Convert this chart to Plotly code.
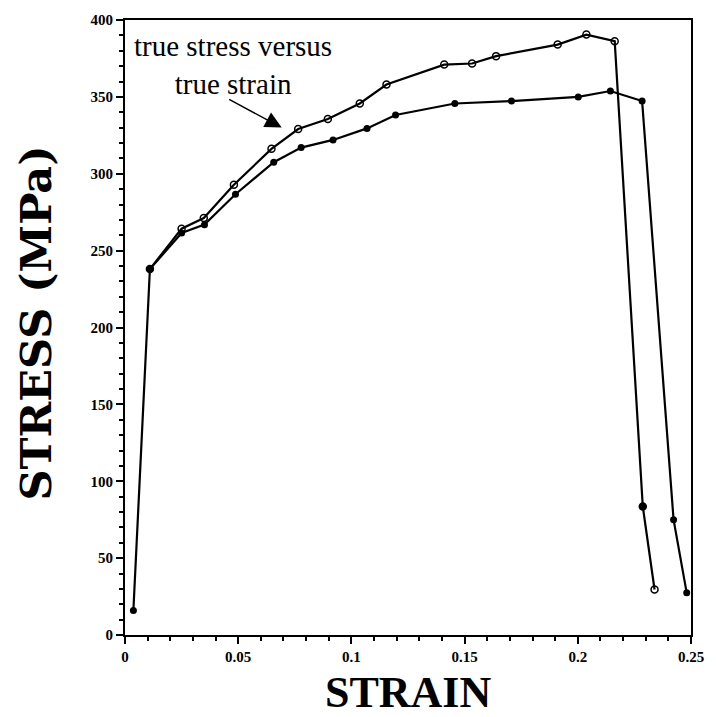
import plotly.graph_objects as go

# true stress vs true strain (open circles)
true_strain = [0.011, 0.025, 0.0348, 0.0481, 0.0647, 0.0765, 0.0896, 0.1037, 0.1155,
               0.141, 0.1533, 0.1639, 0.1911, 0.2038, 0.2163, 0.2287, 0.2339]
true_stress = [238, 264.3, 271.2, 292.8, 316.2, 329.1, 335.6, 345.7, 358,
               371, 371.7, 376.5, 384, 390.5, 386.2, 83.6, 29.6]

# engineering stress vs strain (filled circles)
eng_strain = [0.0037, 0.011, 0.025, 0.0351, 0.0488, 0.0657, 0.0778, 0.0919, 0.1069,
              0.1195, 0.1457, 0.1707, 0.2002, 0.2144, 0.2284, 0.2423, 0.2481]
eng_stress = [16, 238, 261.5, 266.9, 286.7, 307.5, 317, 322, 329.5,
              338.2, 345.7, 347.3, 350, 353.8, 347.3, 75, 27.4]

x_ticks = [0, 0.05, 0.1, 0.15, 0.2, 0.25]
x_ticklabels = ["0", "0.05", "0.1", "0.15", "0.2", "0.25"]
y_ticks = [0, 50, 100, 150, 200, 250, 300, 350, 400]

x_title = "STRAIN"
y_title = "STRESS (MPa)"
annot_text = "true stress versus<br>true strain"

true_symbols = ["circle-open"] * len(true_strain)
true_symbols[15] = "circle"

fig = go.Figure()
fig.add_trace(go.Scatter(
    x=true_strain, y=true_stress, mode="lines+markers",
    line=dict(color="black", width=2.2),
    marker=dict(symbol=true_symbols, size=7, color="black", line=dict(color="black", width=1.5)),
    showlegend=False, cliponaxis=False))
fig.add_trace(go.Scatter(
    x=eng_strain, y=eng_stress, mode="lines+markers",
    line=dict(color="black", width=2.2),
    marker=dict(symbol="circle", size=7, color="black"),
    showlegend=False, cliponaxis=False))

tickfont = dict(family="Liberation Serif", size=15, color="black", weight="bold")

fig.update_layout(
    width=716, height=717,
    margin=dict(l=125, r=16, t=17, b=82),
    paper_bgcolor="white", plot_bgcolor="white",
    xaxis=dict(range=[0, 0.25], tickvals=x_ticks, ticktext=x_ticklabels,
               showline=True, linecolor="black", linewidth=2, mirror=True,
               ticks="outside", ticklen=7, tickwidth=2, tickcolor="black",
               minor=dict(dtick=0.01, tick0=0, ticks="outside", ticklen=4, tickwidth=1.5, tickcolor="black"),
               showgrid=False, zeroline=False, tickfont=tickfont),
    yaxis=dict(range=[0, 400], tickvals=y_ticks,
               showline=True, linecolor="black", linewidth=2, mirror=True,
               ticks="outside", ticklen=7, tickwidth=2, tickcolor="black",
               minor=dict(dtick=10, tick0=0, ticks="outside", ticklen=4, tickwidth=1.5, tickcolor="black"),
               showgrid=False, zeroline=False, tickfont=tickfont),
)

# axis titles
fig.add_annotation(x=0.5, y=0, xref="paper", yref="paper", text=x_title,
                   showarrow=False, xanchor="center", yanchor="middle", yshift=-57,
                   font=dict(family="Liberation Serif", size=44, color="black", weight="bold"))
fig.add_annotation(x=0, y=0.5, xref="paper", yref="paper", text=y_title, textangle=-90,
                   showarrow=False, xanchor="center", yanchor="middle", xshift=-90, yshift=4,
                   font=dict(family="DejaVu Serif", size=43, color="black", weight="bold"))

fig.add_annotation(x=0.0476, y=370.5, xref="x", yref="y", text=annot_text,
                   showarrow=False, xanchor="center", yanchor="middle", align="center",
                   font=dict(family="Liberation Serif", size=29, color="black"))
fig.add_annotation(x=0.0692, y=330, xref="x", yref="y", text="",
                   showarrow=True, arrowhead=2, arrowsize=2.2, arrowwidth=1.5,
                   arrowcolor="black", ax=-54, ay=-29)

fig.write_html("out.html")
